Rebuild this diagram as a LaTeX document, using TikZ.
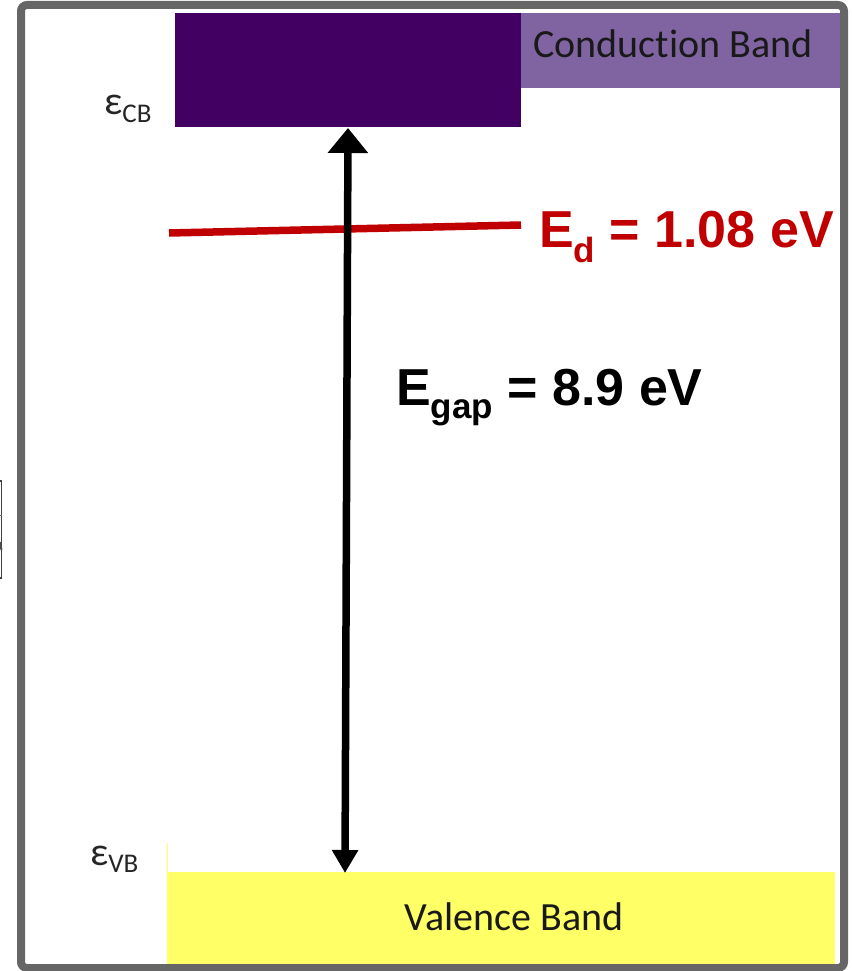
\documentclass[tikz,border=0pt]{standalone}
\usepackage{fontspec}
\setmainfont{Carlito}[Ligatures=CommonOff]
\newfontfamily\arialfont{Liberation Sans}
\usetikzlibrary{arrows.meta}
\definecolor{framegray}{HTML}{666666}
\definecolor{cbandlight}{HTML}{8064A2}
\definecolor{cbanddark}{HTML}{420062}
\definecolor{vbandyellow}{HTML}{FFFF66}
\definecolor{levelred}{HTML}{C00000}

\tikzset{
  band/.style={inner sep=0pt,outer sep=0pt,anchor=north west},
  bandlabel/.style={inner sep=0pt,anchor=base,font=\fontsize{40}{48}\selectfont,text=black!90},
  epslabel/.style={inner sep=0pt,anchor=base west,font=\fontsize{40}{48}\selectfont,text=black!85},
  energylabel/.style={inner sep=0pt,anchor=base west,font=\arialfont\bfseries\fontsize{52}{60}\selectfont}
}

\begin{document}
\begin{tikzpicture}[x=1pt,y=-1pt]
  \useasboundingbox (0,0) rectangle (851,971);

  % bands
  \node[band,fill=cbandlight,minimum width=665pt,minimum height=75pt] (cband) at (175,13) {};
  \node[band,fill=cbanddark,minimum width=346pt,minimum height=114pt] (cbdark) at (175,13) {};
  \node[band,fill=vbandyellow,minimum width=668pt,minimum height=94pt] (vband) at (167,872) {};
  \draw[vbandyellow,line width=1.5pt] (167.7,843) -- (167.7,872);
  \node[bandlabel] (cbtext) at (673,58) {Conduction Band};
  \node[bandlabel] (vbtext) at (514,930) {Valence Band};

  % band edges
  \node[epslabel] (epscb) at (104,115) {ε\raisebox{-8pt}{\fontsize{27}{30}\selectfont CB}};
  \node[epslabel] (epsvb) at (90,865) {ε\raisebox{-7pt}{\fontsize{27}{30}\selectfont VB}};

  % defect level
  \coordinate (edleft) at (169,233);
  \coordinate (edright) at (521,225);
  \draw[levelred,line width=7.5pt] (edleft) -- (edright);
  \node[energylabel,text=levelred] (edlabel) at (539,247) {E\raisebox{-15pt}{\fontsize{35}{40}\selectfont d} = 1.08 eV};

  % gap
  \coordinate (gaptop) at (348,128);
  \coordinate (gapbot) at (345,873);
  \draw[line width=7.5pt,{Triangle[width=39pt,length=25pt]}-{Triangle[width=25pt,length=23pt]}] (gaptop) -- (gapbot);
  \node[energylabel] (gaplabel) at (396,405) {E\raisebox{-13pt}{\fontsize{35}{40}\selectfont gap} = 8.9 eV};

  % frame
  \draw[framegray,line width=8pt,rounded corners=6pt] (21,5) rectangle (844,968);
  \draw[black!75,line width=1.2pt] (-1,481) -- (1.5,481) -- (1.5,578) -- (-1,578);
  \draw[black!60,line width=0.8pt] (0,515) -- (1.5,515);
  \draw[black!70,line width=2pt] (0,542) -- (1.5,550);
\end{tikzpicture}
\end{document}
